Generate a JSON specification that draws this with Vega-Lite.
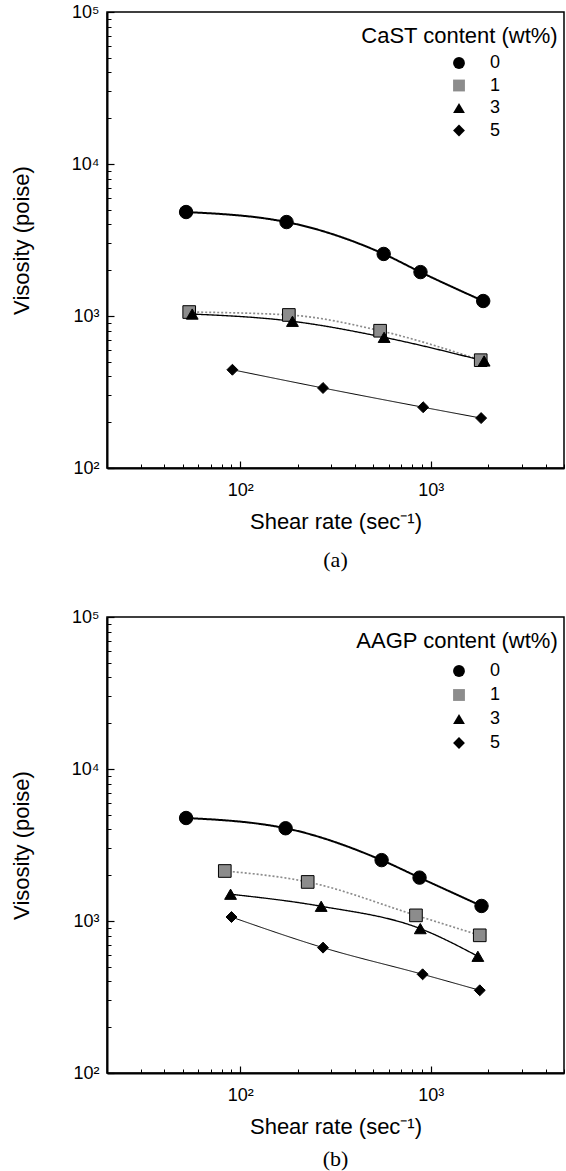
{
  "$schema": "https://vega.github.io/schema/vega-lite/v6.json",
  "padding": {"left": 9, "top": 2, "right": 0, "bottom": 0},
  "background": "white",
  "config": {
    "font": "Liberation Sans",
    "view": {"stroke": "black", "strokeWidth": 1.5},
    "axis": {"grid": false, "domainColor": "black", "tickColor": "black", "labelColor": "black", "titleColor": "black", "labelFont": "Liberation Sans", "titleFont": "Liberation Sans", "titleFontWeight": "normal"},
    "legend": {"labelFont": "Liberation Sans", "labelColor": "black"}
  },
  "resolve": {
    "scale": {"shape": "independent", "fill": "independent", "size": "independent", "stroke": "independent", "strokeWidth": "independent", "strokeDash": "independent"},
    "legend": {"shape": "independent", "fill": "independent"}
  },
  "datasets": {
    "a": [
      {"s": "0", "x": 52, "y": 4830}, {"s": "0", "x": 175, "y": 4150}, {"s": "0", "x": 566, "y": 2560}, {"s": "0", "x": 883, "y": 1945}, {"s": "0", "x": 1884, "y": 1255},
      {"s": "1", "x": 54, "y": 1062}, {"s": "1", "x": 180, "y": 1016}, {"s": "1", "x": 542, "y": 800}, {"s": "1", "x": 1828, "y": 512},
      {"s": "3", "x": 56, "y": 1030}, {"s": "3", "x": 188, "y": 923}, {"s": "3", "x": 569, "y": 724}, {"s": "3", "x": 1905, "y": 506},
      {"s": "5", "x": 91, "y": 443}, {"s": "5", "x": 272, "y": 336}, {"s": "5", "x": 912, "y": 251}, {"s": "5", "x": 1837, "y": 213}
    ],
    "b": [
      {"s": "0", "x": 52, "y": 4760}, {"s": "0", "x": 173, "y": 4075}, {"s": "0", "x": 552, "y": 2515}, {"s": "0", "x": 873, "y": 1929}, {"s": "0", "x": 1846, "y": 1256},
      {"s": "1", "x": 83, "y": 2133}, {"s": "1", "x": 226, "y": 1807}, {"s": "1", "x": 836, "y": 1089}, {"s": "1", "x": 1807, "y": 805},
      {"s": "3", "x": 89, "y": 1500}, {"s": "3", "x": 266, "y": 1250}, {"s": "3", "x": 881, "y": 891}, {"s": "3", "x": 1766, "y": 586},
      {"s": "5", "x": 90, "y": 1062}, {"s": "5", "x": 272, "y": 668}, {"s": "5", "x": 906, "y": 446}, {"s": "5", "x": 1807, "y": 350}
    ]
  },
  "spacing": 35,
  "vconcat": [
    {
      "width": 457, "height": 456,
      "title": {"text": "(a)", "orient": "bottom", "anchor": "middle", "font": "Liberation Serif", "fontSize": 22, "fontWeight": "normal", "offset": 18, "color": "black"},
      "data": {"name": "a"},
      "layer": [
        {
          "mark": {"type": "line", "interpolate": "monotone"},
          "encoding": {
            "x": {"field": "x", "type": "quantitative", "scale": {"type": "log", "domain": [20, 5000], "nice": false},
              "axis": {"orient": "bottom", "values": [100, 1000], "labelExpr": "datum.value == 100 ? '10²' : '10³'", "labelFontSize": 18, "tickSize": -7, "tickWidth": 1.2, "domainWidth": 2, "labelPadding": 20, "title": "Shear rate (sec⁻¹)", "titleFontSize": 22, "titlePadding": 12}},
            "y": {"field": "y", "type": "quantitative", "scale": {"type": "log", "domain": [100, 100000], "nice": false},
              "axis": {"orient": "left", "values": [100, 1000, 10000, 100000], "labelExpr": "datum.value == 100 ? '10²' : datum.value == 1000 ? '10³' : datum.value == 10000 ? '10⁴' : '10⁵'", "labelFontSize": 18, "tickSize": -7, "tickWidth": 1.2, "domainWidth": 2, "labelPadding": 15, "title": "Visosity (poise)", "titleFontSize": 22, "titlePadding": 38}},
            "stroke": {"field": "s", "type": "nominal", "scale": {"range": ["black", "#8c8c8c", "black", "black"]}, "legend": null},
            "strokeWidth": {"field": "s", "type": "nominal", "scale": {"range": [2, 1, 2.5, 1.5]}, "legend": null},
            "strokeDash": {"field": "s", "type": "nominal", "scale": {"range": [[1, 0], [2, 2], [1, 0], [1, 0]]}, "legend": null}
          }
        },
        {
          "mark": {"type": "point", "filled": true, "opacity": 1, "stroke": "black", "strokeWidth": 1},
          "encoding": {
            "x": {"field": "x", "type": "quantitative", "axis": {"orient": "bottom", "values": [20, 30, 40, 50, 60, 70, 80, 90, 200, 300, 400, 500, 600, 700, 800, 900, 2000, 3000, 4000, 5000], "labels": false, "domain": false, "tickSize": -4, "tickWidth": 1, "title": null}},
            "y": {"field": "y", "type": "quantitative", "axis": {"orient": "left", "values": [200, 300, 400, 500, 600, 700, 800, 900, 2000, 3000, 4000, 5000, 6000, 7000, 8000, 9000, 20000, 30000, 40000, 50000, 60000, 70000, 80000, 90000], "labels": false, "domain": false, "tickSize": -4, "tickWidth": 1, "title": null}},
            "shape": {"field": "s", "type": "nominal", "scale": {"domain": ["0", "1", "3", "5"], "range": ["circle", "square", "triangle-up", "diamond"]},
              "legend": {"title": null, "orient": "none", "legendX": 343, "legendY": 42, "padding": 0, "labelFontSize": 18, "labelOffset": 22, "symbolSize": 140, "rowPadding": 4.5, "symbolStrokeColor": "black", "symbolStrokeWidth": 1}},
            "fill": {"field": "s", "type": "nominal", "scale": {"domain": ["0", "1", "3", "5"], "range": ["black", "#8c8c8c", "black", "black"]},
              "legend": {"title": null, "orient": "none", "legendX": 343, "legendY": 42, "padding": 0, "labelFontSize": 18, "labelOffset": 22, "symbolSize": 140, "rowPadding": 4.5, "symbolStrokeColor": "black", "symbolStrokeWidth": 1}},
            "size": {"field": "s", "type": "nominal", "scale": {"range": [180, 120, 200, 290]}, "legend": null}
          }
        },
        {
          "data": {"values": [{"t": "CaST content (wt%)"}]},
          "mark": {"type": "text", "align": "right", "baseline": "middle", "fontSize": 22, "font": "Liberation Sans", "color": "black"},
          "encoding": {
            "x": {"datum": 4634, "type": "quantitative", "axis": null},
            "y": {"datum": 69500, "type": "quantitative", "axis": null},
            "text": {"field": "t"}
          }
        }
      ],
      "resolve": {"axis": {"x": "independent", "y": "independent"}}
    },
    {
      "width": 457, "height": 456,
      "title": {"text": "(b)", "orient": "bottom", "anchor": "middle", "font": "Liberation Serif", "fontSize": 22, "fontWeight": "normal", "offset": 12, "color": "black"},
      "data": {"name": "b"},
      "layer": [
        {
          "mark": {"type": "line", "interpolate": "monotone"},
          "encoding": {
            "x": {"field": "x", "type": "quantitative", "scale": {"type": "log", "domain": [20, 5000], "nice": false},
              "axis": {"orient": "bottom", "values": [100, 1000], "labelExpr": "datum.value == 100 ? '10²' : '10³'", "labelFontSize": 18, "tickSize": -7, "tickWidth": 1.2, "domainWidth": 2, "labelPadding": 20, "title": "Shear rate (sec⁻¹)", "titleFontSize": 22, "titlePadding": 12}},
            "y": {"field": "y", "type": "quantitative", "scale": {"type": "log", "domain": [100, 100000], "nice": false},
              "axis": {"orient": "left", "values": [100, 1000, 10000, 100000], "labelExpr": "datum.value == 100 ? '10²' : datum.value == 1000 ? '10³' : datum.value == 10000 ? '10⁴' : '10⁵'", "labelFontSize": 18, "tickSize": -7, "tickWidth": 1.2, "domainWidth": 2, "labelPadding": 15, "title": "Visosity (poise)", "titleFontSize": 22, "titlePadding": 38}},
            "stroke": {"field": "s", "type": "nominal", "scale": {"range": ["black", "#8c8c8c", "black", "black"]}, "legend": null},
            "strokeWidth": {"field": "s", "type": "nominal", "scale": {"range": [2, 1, 2.5, 1.5]}, "legend": null},
            "strokeDash": {"field": "s", "type": "nominal", "scale": {"range": [[1, 0], [2, 2], [1, 0], [1, 0]]}, "legend": null}
          }
        },
        {
          "mark": {"type": "point", "filled": true, "opacity": 1, "stroke": "black", "strokeWidth": 1},
          "encoding": {
            "x": {"field": "x", "type": "quantitative", "axis": {"orient": "bottom", "values": [20, 30, 40, 50, 60, 70, 80, 90, 200, 300, 400, 500, 600, 700, 800, 900, 2000, 3000, 4000, 5000], "labels": false, "domain": false, "tickSize": -4, "tickWidth": 1, "title": null}},
            "y": {"field": "y", "type": "quantitative", "axis": {"orient": "left", "values": [200, 300, 400, 500, 600, 700, 800, 900, 2000, 3000, 4000, 5000, 6000, 7000, 8000, 9000, 20000, 30000, 40000, 50000, 60000, 70000, 80000, 90000], "labels": false, "domain": false, "tickSize": -4, "tickWidth": 1, "title": null}},
            "shape": {"field": "s", "type": "nominal", "scale": {"domain": ["0", "1", "3", "5"], "range": ["circle", "square", "triangle-up", "diamond"]},
              "legend": {"title": null, "orient": "none", "legendX": 343, "legendY": 45, "padding": 0, "labelFontSize": 18, "labelOffset": 22, "symbolSize": 140, "rowPadding": 6, "symbolStrokeColor": "black", "symbolStrokeWidth": 1}},
            "fill": {"field": "s", "type": "nominal", "scale": {"domain": ["0", "1", "3", "5"], "range": ["black", "#8c8c8c", "black", "black"]},
              "legend": {"title": null, "orient": "none", "legendX": 343, "legendY": 45, "padding": 0, "labelFontSize": 18, "labelOffset": 22, "symbolSize": 140, "rowPadding": 6, "symbolStrokeColor": "black", "symbolStrokeWidth": 1}},
            "size": {"field": "s", "type": "nominal", "scale": {"range": [180, 120, 200, 290]}, "legend": null}
          }
        },
        {
          "data": {"values": [{"t": "AAGP content (wt%)"}]},
          "mark": {"type": "text", "align": "right", "baseline": "middle", "fontSize": 22, "font": "Liberation Sans", "color": "black"},
          "encoding": {
            "x": {"datum": 4634, "type": "quantitative", "axis": null},
            "y": {"datum": 69500, "type": "quantitative", "axis": null},
            "text": {"field": "t"}
          }
        }
      ],
      "resolve": {"axis": {"x": "independent", "y": "independent"}}
    }
  ]
}
